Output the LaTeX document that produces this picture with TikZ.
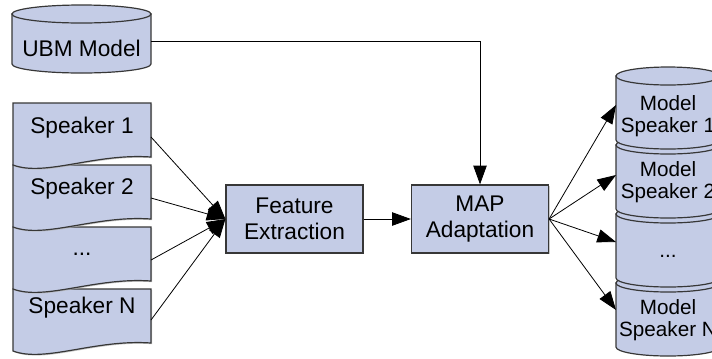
\documentclass[tikz,border=0pt]{standalone}
\usepackage{fontspec}
\setmainfont{Liberation Sans}
\usetikzlibrary{arrows.meta,shadows}
\definecolor{boxfill}{RGB}{196,204,230}
\definecolor{boxline}{RGB}{55,55,55}
\newcommand\mydoc[1]{\path[blueshape,shadowed] (13,#1) -- (151,#1) -- (151,#1+54) .. controls (95,#1+50) and (45,#1+74) .. (13,#1+62) -- cycle;}
\newcommand\mycyl[2]{%
  \path[blueshape] (616,#1) -- (616,#2) arc[start angle=180,end angle=0,x radius=52,y radius=9] -- (720,#1) -- cycle;
  \path[blueshape] (668,#1) ellipse[x radius=52,y radius=9];}
\begin{document}
\begin{tikzpicture}[x=0.75pt,y=-0.75pt,
  blueshape/.style={fill=boxfill,draw=boxline,line width=0.9pt},
  shadowed/.style={drop shadow={shadow xshift=0.9pt,shadow yshift=-0.9pt,fill=black!30,opacity=0.7}},
  lbl/.style={font=\fontsize{17}{19.5}\selectfont,align=center,inner sep=0pt},
  mlbl/.style={font=\fontsize{15.5}{16.5}\selectfont,align=center,inner sep=0pt},
  procbox/.style={blueshape,shadowed,lbl,minimum width=102.75pt,minimum height=51pt},
  conn/.style={draw=black,line width=0.6pt,-{Triangle[length=14pt,width=10pt]}}]
\useasboundingbox (0,0) rectangle (712,358);
\clip (0,0) rectangle (712,358);
% UBM model cylinder
\path[blueshape] (12,14) -- (12,64) arc[start angle=180,end angle=0,x radius=69.5,y radius=9] -- (151,14) -- cycle;
\path[blueshape] (81.5,14) ellipse[x radius=69.5,y radius=9];
\node[lbl] (ubm) at (81.5,48) {UBM Model};
\coordinate (ubmE) at (151,41);
% speaker documents (bottom first)
\mydoc{289}
\mydoc{227}
\mydoc{165}
\mydoc{103}
\node[lbl] (s1) at (82,128) {Speaker 1};
\node[lbl] (s2) at (82,189) {Speaker 2};
\node[lbl] (s3) at (82,254) {...};
\node[lbl] (s4) at (82,308) {Speaker N};
\coordinate (s1e) at (151,137);
\coordinate (s2e) at (151,198);
\coordinate (s3e) at (151,260);
\coordinate (s4e) at (151,320);
% process boxes
\node[procbox] (fe) at (294.5,219) {Feature\\Extraction};
\node[procbox] (map) at (480,219) {MAP\\Adaptation};
% model cylinders (bottom first)
\mycyl{283}{347}
\mycyl{214}{278}
\mycyl{145}{209}
\mycyl{76}{140}
\node[mlbl] (c1) at (668,116) {Model\\Speaker 1};
\node[mlbl] (c2) at (668,182) {Model\\Speaker 2};
\node[mlbl] (c3) at (668,256) {...};
\node[mlbl] (c4) at (668,320) {Model\\Speaker N};
\coordinate (m1) at (616,105);
\coordinate (m2) at (616,175);
\coordinate (m3) at (616,242);
\coordinate (m4) at (616,310);
% connectors
\draw[conn] (ubmE) -| (map.north);
\foreach \s in {s1e,s2e,s3e,s4e} \draw[conn] (\s) -- (fe.west);
\draw[conn] (fe.east) -- (map.west);
\foreach \m in {m1,m2,m3,m4} \draw[conn] (map.east) -- (\m);
\end{tikzpicture}
\end{document}
